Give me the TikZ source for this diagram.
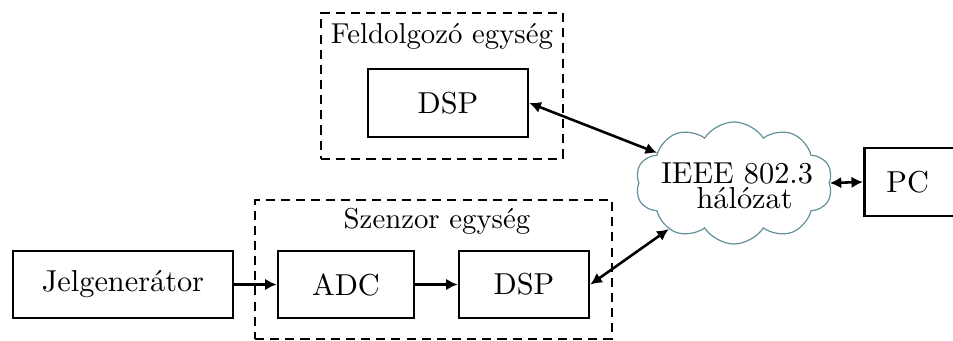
\documentclass[tikz,border=0pt]{standalone}
\usetikzlibrary{shapes.symbols,arrows.meta}
\definecolor{cloudc}{RGB}{100,145,155}
\begin{document}
\begin{tikzpicture}[x=0.33pt,y=-0.33pt,
  box/.style={draw,line width=0.9pt,inner sep=0pt,font=\fontsize{10}{12}\selectfont},
  grp/.style={draw,line width=0.9pt,dash pattern=on 3pt off 2pt,inner sep=0pt},
  lbl/.style={font=\fontsize{9.5}{11}\selectfont,inner sep=0pt},
  tip/.tip={Latex[length=3.8pt,width=3.8pt]},
  conn/.style={line width=0.85pt,tip-tip},
  fwd/.style={line width=0.85pt,-tip}]
\useasboundingbox (0,0) rectangle (953,341);
% groups
\node[grp,minimum width={242*0.33pt},minimum height={146*0.33pt}] (g1) at (442,86) {};
\node[grp,minimum width={357*0.33pt},minimum height={139*0.33pt}] (g2) at (433.5,269.5) {};
\node[lbl] (l1) at (442,36) {Feldolgozó egység};
\node[lbl] (l2) at (437,221) {Szenzor egység};
% blocks
\node[box,minimum width={220*0.33pt},minimum height={67*0.33pt}] (jel) at (123,284.5) {Jelgenerátor};
\node[box,minimum width={136*0.33pt},minimum height={67*0.33pt}] (adc) at (346,284.5) {ADC};
\node[box,minimum width={130*0.33pt},minimum height={67*0.33pt}] (dsp2) at (524,284.5) {DSP};
\node[box,minimum width={160*0.33pt},minimum height={68*0.33pt}] (dsp1) at (448,103) {DSP};
\node[cloud,draw=cloudc,line width=0.4pt,cloud puffs=10,cloud puff arc=115,aspect=1.6,
      inner sep=0pt,minimum width={197*0.33pt},minimum height={122*0.33pt}] (net) at (734,183) {};
\node[align=center,inner sep=0pt,font=\fontsize{10}{12}\selectfont] (nettxt) at (737,186)
      {IEEE 802.3\\[-3.6pt]\hspace{5pt}hálózat};
\node[box,anchor=west,inner xsep={22*0.33pt},text width={53*0.33pt},align=left,
      minimum height={68*0.33pt}] (pc) at (863,182) {PC};
% connectors
\draw[fwd] (jel.east) -- (adc.west);
\draw[fwd] (adc.east) -- (dsp2.west);
\draw[conn] (dsp1.east) -- (net);
\draw[conn] (dsp2.east) -- (net);
\draw[conn] (net.east) -- (pc.west);
\end{tikzpicture}
\end{document}
